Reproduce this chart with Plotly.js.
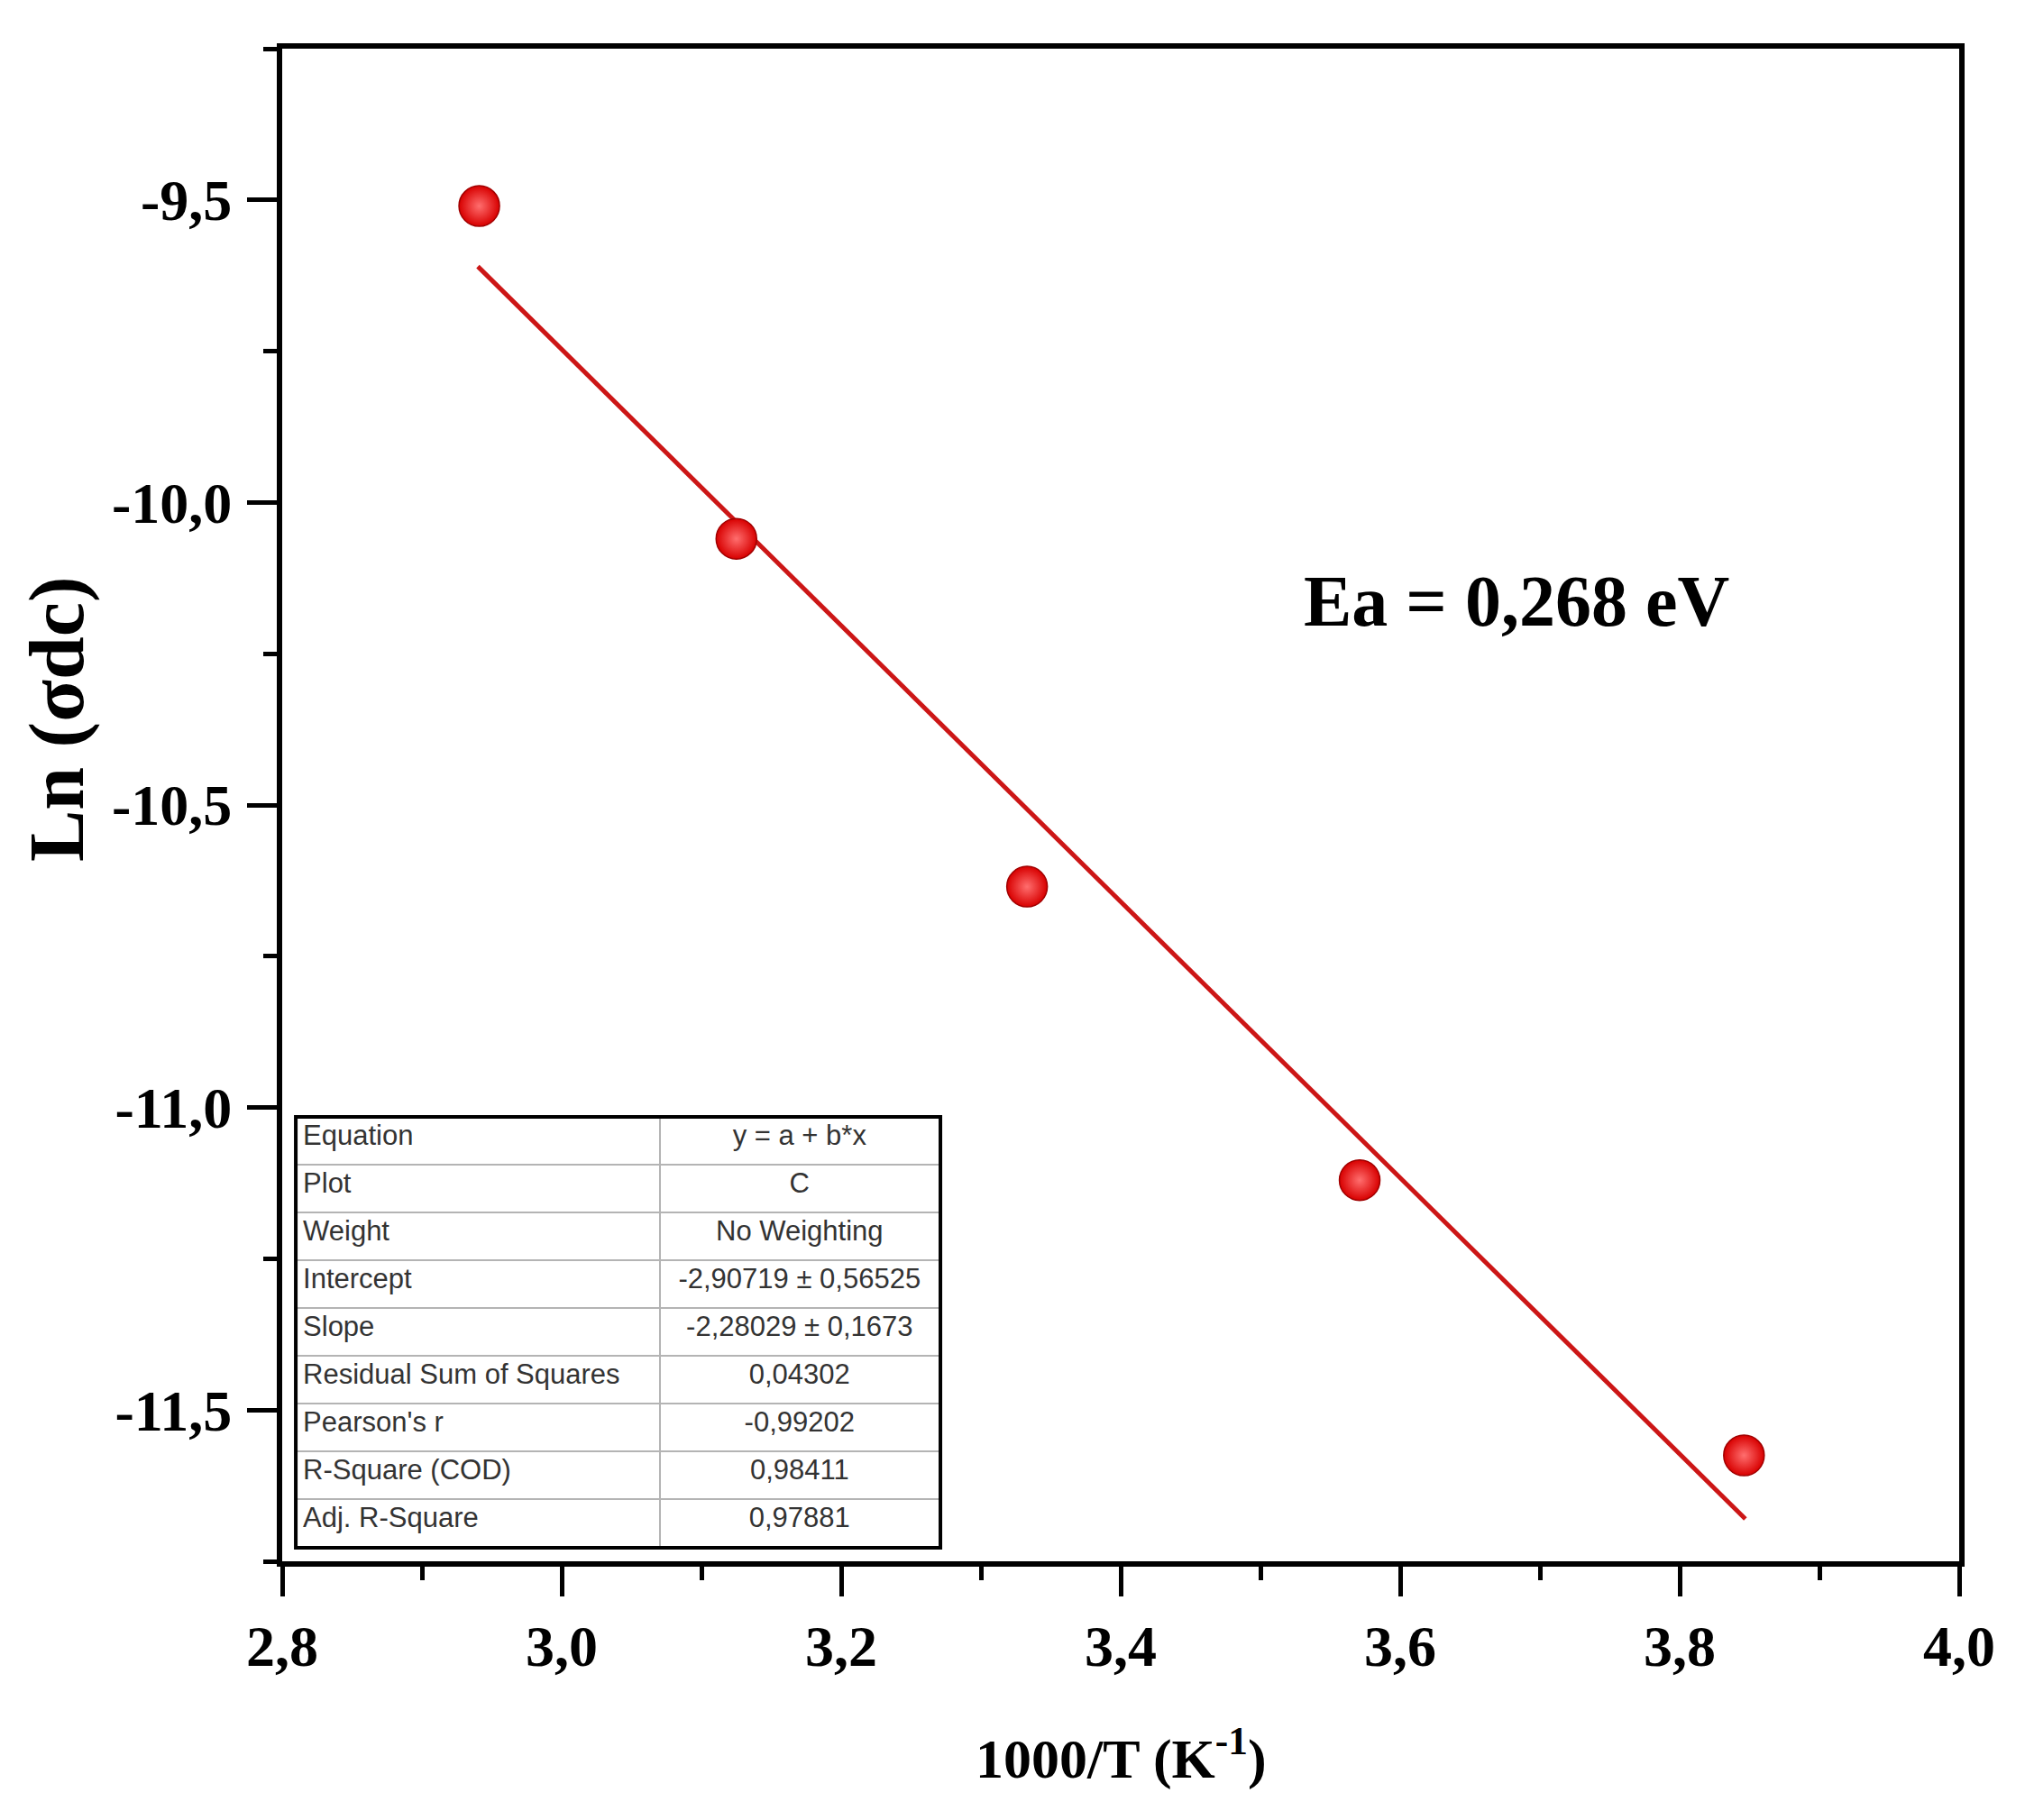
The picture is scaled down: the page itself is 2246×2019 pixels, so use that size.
<!DOCTYPE html>
<html>
<head>
<meta charset="utf-8">
<script src="https://cdn.plot.ly/plotly-3.0.1.min.js"></script>
<style>html,body{margin:0;padding:0;background:#fff;}#chart{width:2246px;height:2019px;}</style>
</head>
<body>
<div id="chart"></div>
<script>
// ---- data ----
const invT = [2.941, 3.125, 3.333, 3.571, 3.846];          // 1000/T (K^-1)
const lnSigma = [-9.51, -10.06, -10.635, -11.12, -11.575];   // Ln(sigma dc)
const fitX = [2.940, 3.847];                                 // fitted line ends
const fitY = [-9.61, -11.68];
const xTickVals = [2.8, 3.0, 3.2, 3.4, 3.6, 3.8, 4.0];
const xTickText = ['2,8', '3,0', '3,2', '3,4', '3,6', '3,8', '4,0'];
const yTickVals = [-9.5, -10.0, -10.5, -11.0, -11.5];
const yTickText = ['-9,5', '-10,0', '-10,5', '-11,0', '-11,5'];
const statLabels = ['Equation', 'Plot', 'Weight', 'Intercept', 'Slope',
  'Residual Sum of Squares', "Pearson's r", 'R-Square (COD)', 'Adj. R-Square'];
const statValues = ['y = a + b*x', 'C', 'No Weighting', '-2,90719 ± 0,56525',
  '-2,28029 ± 0,1673', '0,04302', '-0,99202', '0,98411', '0,97881'];
const eaText = 'Ea = 0,268 eV';

const serif = 'Liberation Serif, Times New Roman, serif';
const sans = 'Liberation Sans, Arial, sans-serif';

const traces = [
  {
    type: 'scatter', mode: 'lines', x: fitX, y: fitY,
    line: {color: '#cc1616', width: 5}, hoverinfo: 'skip', showlegend: false
  },
  {
    type: 'scatter', mode: 'markers', x: invT, y: lnSigma,
    marker: {
      size: 45, color: '#d80000',
      gradient: {type: 'radial', color: '#ff6e6e'},
      line: {color: '#a00000', width: 1.5}
    },
    showlegend: false
  },
  {
    type: 'table',
    domain: {x: [0.0081, 0.3925], y: [0.0089, 0.2938]},
    columnwidth: [404, 311],
    header: {
      values: [[statLabels[0]], [statValues[0]]],
      align: ['left', 'center'],
      height: 53,
      fill: {color: '#ffffff'},
      line: {color: '#b4b4b4', width: 2},
      font: {family: sans, size: 31, color: '#333333'}
    },
    cells: {
      values: [statLabels.slice(1), statValues.slice(1)],
      align: ['left', 'center'],
      height: 53,
      fill: {color: '#ffffff'},
      line: {color: '#b4b4b4', width: 2},
      font: {family: sans, size: 31, color: '#333333'}
    }
  }
];

const axisCommon = {
  showgrid: false, zeroline: false,
  showline: true, linecolor: '#000', linewidth: 6, mirror: true,
  ticks: 'outside', ticklen: 33, tickwidth: 5, tickcolor: '#000',
  tickmode: 'array',
  tickfont: {family: serif, size: 64, color: '#000', weight: 'bold'}
};

const layout = {
  width: 2246, height: 2019,
  margin: {l: 313, r: 73, t: 54, b: 287},
  paper_bgcolor: '#ffffff', plot_bgcolor: '#ffffff',
  showlegend: false,
  xaxis: Object.assign({}, axisCommon, {
    range: [2.8, 4.0], tickvals: xTickVals, ticktext: xTickText,
    ticklabelstandoff: 0,
    minor: {dtick: 0.1, tick0: 2.8, ticks: 'outside', ticklen: 15, tickwidth: 5, tickcolor: '#000'}
  }),
  yaxis: Object.assign({}, axisCommon, {
    range: [-11.75, -9.25], tickvals: yTickVals, ticktext: yTickText,
    ticklabelstandoff: 4,
    minor: {dtick: 0.25, tick0: -9.5, ticks: 'outside', ticklen: 15, tickwidth: 5, tickcolor: '#000'}
  }),
  shapes: [
    {type: 'rect', xref: 'paper', yref: 'paper', x0: 0.0081, x1: 0.3925, y0: 0.0089, y1: 0.2938,
     line: {color: '#000', width: 4}, fillcolor: 'rgba(0,0,0,0)', layer: 'above'}
  ],
  annotations: [
    {text: eaText, xref: 'x', yref: 'y', x: 3.683, y: -10.163, showarrow: false,
     font: {family: serif, size: 80, color: '#000', weight: 'bold'}},
    {text: 'Ln (σdc)', xref: 'paper', yref: 'paper', x: -0.134, y: 0.557, textangle: -90,
     xanchor: 'center', yanchor: 'middle',
     showarrow: false, font: {family: serif, size: 86, color: '#000', weight: 'bold'}},
    {text: '1000/T (K<sup>-1</sup>)', xref: 'paper', yref: 'paper', x: 0.5, y: -0.128,
     xanchor: 'center', yanchor: 'middle', showarrow: false,
     font: {family: serif, size: 62, color: '#000', weight: 'bold'}}
  ]
};

Plotly.newPlot('chart', traces, layout, {staticPlot: true, displayModeBar: false});
</script>
</body>
</html>
